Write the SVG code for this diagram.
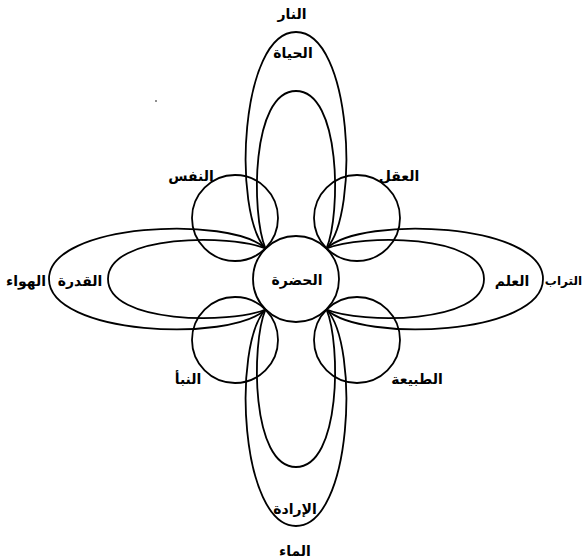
<svg xmlns="http://www.w3.org/2000/svg" xmlns:xlink="http://www.w3.org/1999/xlink" width="583" height="560" viewBox="0 0 583 560">
<style>
.ln{fill:none;stroke:#000;stroke-width:1.8}
.lb{font-family:"DejaVu Sans",sans-serif;font-size:14px;font-weight:bold;fill:#000;text-anchor:middle}
</style>
<defs>
<path id="outerLoop" d="M -30.5,-30.5 C -64,-66 -56,-247 0,-247 C 56,-247 64,-66 30.5,-30.5"/>
<path id="innerLoop" d="M -30.5,-30.5 C -45,-65 -45,-188 0,-188 C 45,-188 45,-65 30.5,-30.5"/>
</defs>
<rect width="583" height="560" fill="#fff"/>
<g id="loops" class="ln">
<g id="loop-top-outer"><use xlink:href="#outerLoop" transform="translate(296,279)"/></g>
<g id="loop-top-inner"><use xlink:href="#innerLoop" transform="translate(296,279)"/></g>
<g id="loop-right-outer"><use xlink:href="#outerLoop" transform="translate(296,279) rotate(90)"/></g>
<g id="loop-right-inner"><use xlink:href="#innerLoop" transform="translate(296,279) rotate(90)"/></g>
<g id="loop-bottom-outer"><use xlink:href="#outerLoop" transform="translate(296,279) rotate(180)"/></g>
<g id="loop-bottom-inner"><use xlink:href="#innerLoop" transform="translate(296,279) rotate(180)"/></g>
<g id="loop-left-outer"><use xlink:href="#outerLoop" transform="translate(296,279) rotate(-90)"/></g>
<g id="loop-left-inner"><use xlink:href="#innerLoop" transform="translate(296,279) rotate(-90)"/></g>
</g>
<g id="node-hadra"><circle class="ln" cx="296" cy="279" r="43"/><text class="lb" x="297" y="285">الحضرة</text></g>
<g id="node-nafs"><circle class="ln" cx="235" cy="218" r="43"/><text class="lb" x="191" y="181">النفس</text></g>
<g id="node-aql"><circle class="ln" cx="357" cy="218" r="43"/><text class="lb" x="399" y="181">العقل</text></g>
<g id="node-naba"><circle class="ln" cx="235" cy="340" r="43"/><text class="lb" x="188" y="384">النبأ</text></g>
<g id="node-tabia"><circle class="ln" cx="357" cy="340" r="43"/><text class="lb" x="417" y="384">الطبيعة</text></g>
<g id="labels-loops">
<text class="lb" x="292" y="19">النار</text>
<text class="lb" x="293" y="58">الحياة</text>
<text class="lb" x="295" y="514">الإرادة</text>
<text class="lb" x="295" y="556">الماء</text>
<text class="lb" x="80" y="286">القدرة</text>
<text class="lb" x="26" y="286">الهواء</text>
<text class="lb" x="512" y="286">العلم</text>
<text class="lb" x="582" y="285" style="text-anchor:end;font-size:12px">التراب</text>
</g>
<circle cx="156" cy="101" r="0.8" fill="#000"/>
</svg>
